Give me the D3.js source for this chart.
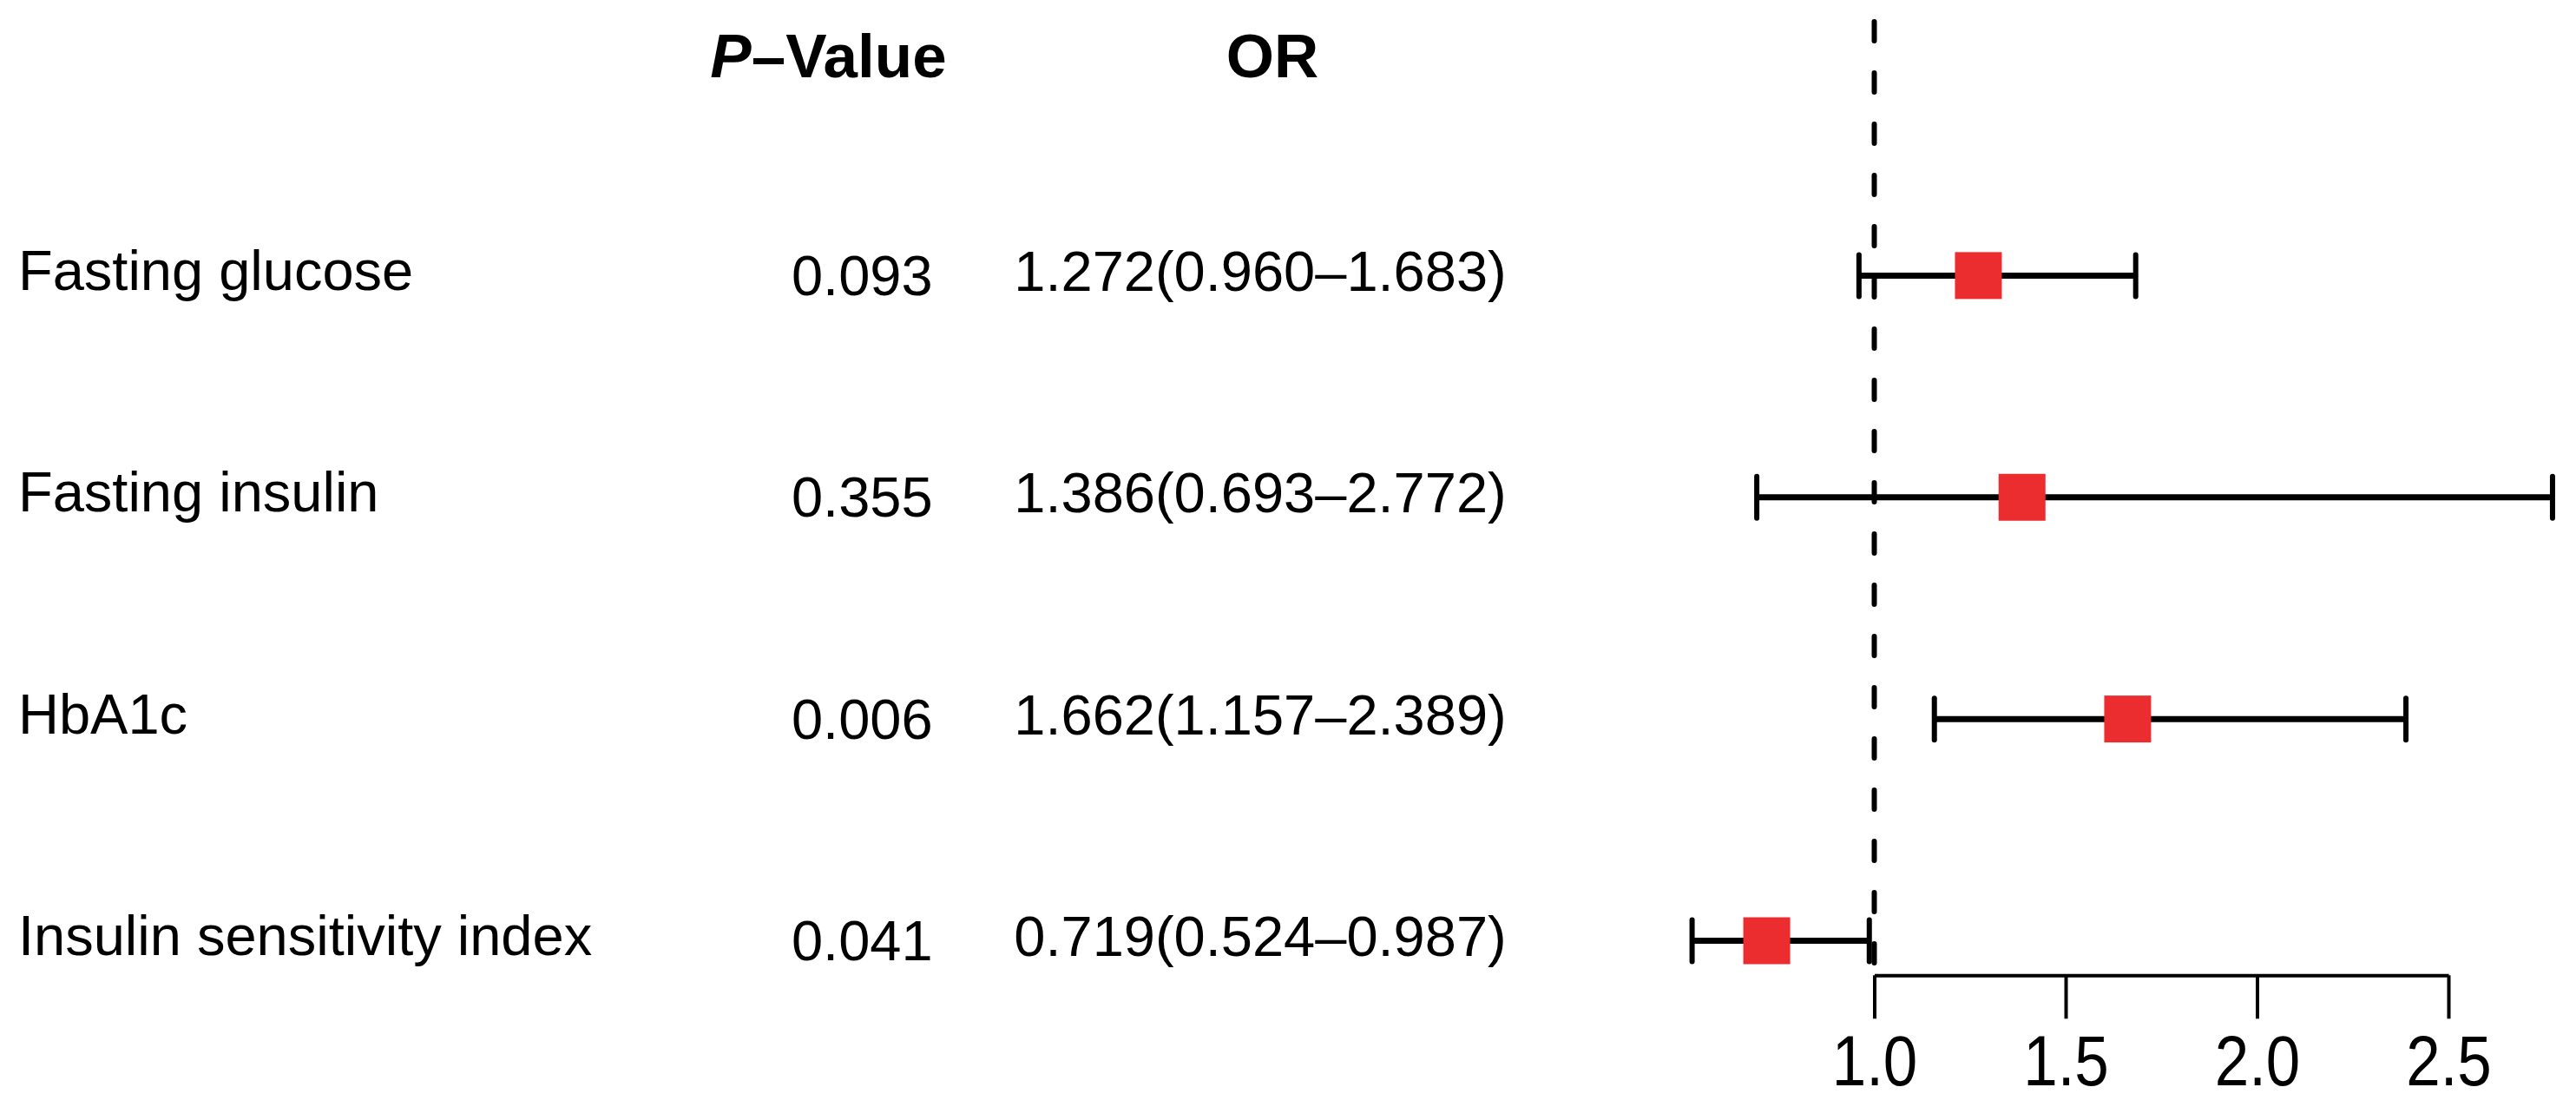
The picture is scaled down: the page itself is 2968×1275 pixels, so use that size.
<!DOCTYPE html>
<html>
<head>
<meta charset="utf-8">
<script src="https://cdn.jsdelivr.net/npm/d3@7"></script>
<style>
  body { margin: 0; background: #fff; }
  svg text { font-family: "Liberation Sans", Arial, sans-serif; fill: #000; }
</style>
</head>
<body>
<div id="chart"></div>
<script>
// forest plot data
var labels = ["Fasting glucose", "Fasting insulin", "HbA1c", "Insulin sensitivity index"];
var pValues = ["0.093", "0.355", "0.006", "0.041"];
var orValues = [1.272, 1.386, 1.662, 0.719];
var lower = [0.960, 0.693, 1.157, 0.524];
var upper = [1.683, 2.772, 2.389, 0.987];
var xTicks = [1.0, 1.5, 2.0, 2.5];

var width = 2968, height = 1275;
var f3 = d3.format(".3f");

var svg = d3.select("#chart").append("svg")
  .attr("width", width)
  .attr("height", height);

svg.append("rect").attr("width", width).attr("height", height).attr("fill", "#fff");

// rows: header + one per variable
var y = d3.scalePoint()
  .domain(["header"].concat(labels))
  .range([62, 1083.5]);

var x = d3.scaleLinear()
  .domain([1, 2.5])
  .range([2159.5, 2821]);

var axisY = 1123.3;

// headers
var ph = svg.append("text")
  .attr("x", 954.5)
  .attr("y", y("header") + 27)
  .attr("text-anchor", "middle")
  .style("font-size", "71px")
  .style("font-weight", "bold");
ph.append("tspan").style("font-style", "italic").text("P");
ph.append("tspan").text("\u2013Value");

svg.append("text")
  .attr("x", 1466)
  .attr("y", y("header") + 27)
  .attr("text-anchor", "middle")
  .style("font-size", "71px")
  .style("font-weight", "bold")
  .text("OR");

// text columns
var rows = labels.map(function(d, i) {
  return {label: d, p: pValues[i], or: orValues[i], lo: lower[i], hi: upper[i]};
});

svg.selectAll(".lab")
  .data(rows)
  .enter().append("text")
  .attr("class", "lab")
  .attr("x", 21)
  .attr("y", function(d) { return y(d.label) + 16.5; })
  .style("font-size", "65px")
  .text(function(d) { return d.label; });

svg.selectAll(".pv")
  .data(rows)
  .enter().append("text")
  .attr("class", "pv")
  .attr("x", 993.3)
  .attr("y", function(d) { return y(d.label) + 22.5; })
  .attr("text-anchor", "middle")
  .style("font-size", "65px")
  .text(function(d) { return d.p; });

svg.selectAll(".orv")
  .data(rows)
  .enter().append("text")
  .attr("class", "orv")
  .attr("x", 1452)
  .attr("y", function(d) { return y(d.label) + 17.5; })
  .attr("text-anchor", "middle")
  .style("font-size", "65px")
  .text(function(d) { return f3(d.or) + "(" + f3(d.lo) + "\u2013" + f3(d.hi) + ")"; });

// reference line at OR = 1
svg.append("line")
  .attr("x1", x(1)).attr("x2", x(1))
  .attr("y1", 25).attr("y2", axisY)
  .attr("stroke", "#000")
  .attr("stroke-width", 6)
  .attr("stroke-linecap", "round")
  .attr("stroke-dasharray", "22,37");

// confidence intervals
var ci = svg.selectAll(".ci")
  .data(rows)
  .enter().append("g")
  .attr("class", "ci")
  .attr("transform", function(d) { return "translate(0," + y(d.label) + ")"; });

ci.append("line")
  .attr("x1", function(d) { return x(d.lo); })
  .attr("x2", function(d) { return x(d.hi); })
  .attr("stroke", "#000")
  .attr("stroke-width", 7);

ci.selectAll(".cap")
  .data(function(d) { return [d.lo, d.hi]; })
  .enter().append("line")
  .attr("class", "cap")
  .attr("x1", function(d) { return x(d); })
  .attr("x2", function(d) { return x(d); })
  .attr("y1", -24).attr("y2", 24)
  .attr("stroke", "#000")
  .attr("stroke-width", 6)
  .attr("stroke-linecap", "round");

ci.append("rect")
  .attr("x", function(d) { return x(d.or) - 27; })
  .attr("y", -27)
  .attr("width", 54)
  .attr("height", 54)
  .attr("fill", "#EC2D30");

// x axis
var ax = svg.append("g")
  .attr("transform", "translate(0," + axisY + ")")
  .call(d3.axisBottom(x).tickValues(xTicks).tickFormat(d3.format(".1f")).tickSize(50).tickSizeOuter(0));

ax.select(".domain").attr("stroke", "#000").attr("stroke-width", 4);
ax.selectAll(".tick line").attr("stroke", "#000").attr("stroke-width", 4);
ax.selectAll(".tick text")
  .attr("y", 0).attr("dy", 0)
  .attr("transform", "translate(0,126.7) scale(1,1.15)")
  .style("font-size", "71px")
  .style("font-family", "'Liberation Sans', Arial, sans-serif")
  .attr("fill", "#000");
</script>
</body>
</html>
